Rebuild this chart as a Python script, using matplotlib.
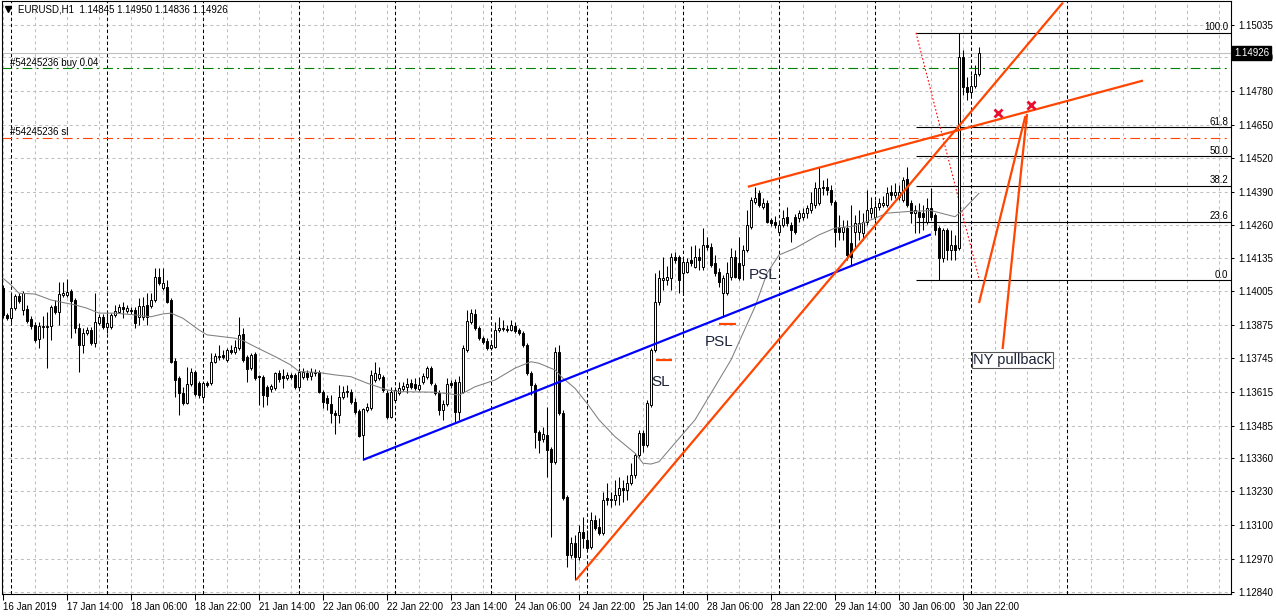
import numpy as np
import matplotlib
matplotlib.use('Agg')
import matplotlib.pyplot as plt

plt.rcParams['font.family'] = ['Liberation Sans', 'DejaVu Sans']
plt.rcParams['lines.scale_dashes'] = False

# EURUSD H1, bar 0 = 16 Jan 22:00
start_hour = 22
opens = [
    1.14017, 1.13913, 1.13901, 1.13940, 1.13987, 1.13932, 1.13936, 1.13897, 1.13875, 1.13820,
    1.13867, 1.13867, 1.13871, 1.13948, 1.13924, 1.13991, 1.13991, 1.14006, 1.13971, 1.13863,
    1.13797, 1.13843, 1.13855, 1.13804, 1.13882, 1.13905, 1.13867, 1.13867, 1.13913, 1.13924,
    1.13944, 1.13928, 1.13932, 1.13932, 1.13905, 1.13905, 1.13952, 1.13948, 1.13971, 1.14060,
    1.14017, 1.14021, 1.13971, 1.13735, 1.13669, 1.13611, 1.13572, 1.13646, 1.13692, 1.13650,
    1.13596, 1.13650, 1.13650, 1.13731, 1.13751, 1.13759, 1.13739, 1.13778, 1.13770, 1.13785,
    1.13840, 1.13751, 1.13708, 1.13763, 1.13677, 1.13673, 1.13634, 1.13627, 1.13631, 1.13688,
    1.13677, 1.13669, 1.13681, 1.13681, 1.13634, 1.13673, 1.13688, 1.13677, 1.13692, 1.13692,
    1.13615, 1.13592, 1.13569, 1.13534, 1.13526, 1.13596, 1.13615, 1.13615, 1.13576, 1.13541,
    1.13449, 1.13545, 1.13553, 1.13661, 1.13669, 1.13673, 1.13611, 1.13518, 1.13584, 1.13611,
    1.13627, 1.13634, 1.13650, 1.13646, 1.13627, 1.13653, 1.13673, 1.13708, 1.13642, 1.13611,
    1.13545, 1.13569, 1.13650, 1.13653, 1.13538, 1.13615, 1.13778, 1.13886, 1.13917, 1.13863,
    1.13824, 1.13812, 1.13785, 1.13789, 1.13855, 1.13859, 1.13859, 1.13855, 1.13871, 1.13855,
    1.13843, 1.13797, 1.13688, 1.13642, 1.13460, 1.13433, 1.13449, 1.13394, 1.13344, 1.13770,
    1.13534, 1.13209, 1.12984, 1.13031, 1.12976, 1.13073, 1.13042, 1.13015, 1.13120, 1.13093,
    1.13069, 1.13205, 1.13197, 1.13197, 1.13216, 1.13243, 1.13236, 1.13263, 1.13294, 1.13371,
    1.13456, 1.13410, 1.13565, 1.13778, 1.13963, 1.14048, 1.14048, 1.14056, 1.14137, 1.14137,
    1.14075, 1.14079, 1.14126, 1.14099, 1.14137, 1.14099, 1.14184, 1.14176, 1.14114, 1.14079,
    1.13998, 1.13998, 1.14060, 1.14137, 1.14114, 1.14106, 1.14165, 1.14254, 1.14350, 1.14385,
    1.14331, 1.14347, 1.14281, 1.14273, 1.14234, 1.14261, 1.14292, 1.14261, 1.14292, 1.14288,
    1.14292, 1.14308, 1.14319, 1.14339, 1.14347, 1.14408, 1.14408, 1.14397, 1.14350, 1.14254,
    1.14234, 1.14250, 1.14192, 1.14234, 1.14234, 1.14230, 1.14273, 1.14308, 1.14292, 1.14331,
    1.14339, 1.14339, 1.14389, 1.14377, 1.14370, 1.14358, 1.14439, 1.14347, 1.14308, 1.14312,
    1.14308, 1.14273, 1.14327, 1.14300, 1.14250, 1.14134, 1.14242, 1.14165, 1.14184, 1.14172,
    1.14911, 1.14795, 1.14776, 1.14799, 1.14845,
]
highs = [
    1.14029, 1.13920, 1.13998, 1.13995, 1.13998, 1.14006, 1.13952, 1.13909, 1.13886, 1.13886,
    1.13909, 1.13924, 1.13952, 1.13971, 1.14040, 1.14040, 1.14052, 1.14013, 1.13979, 1.13882,
    1.13863, 1.13867, 1.13867, 1.13998, 1.13917, 1.13917, 1.13924, 1.13920, 1.13952, 1.13956,
    1.13963, 1.13952, 1.13944, 1.13944, 1.13979, 1.13983, 1.13998, 1.13998, 1.14095, 1.14095,
    1.14095, 1.14048, 1.13979, 1.13747, 1.13677, 1.13634, 1.13712, 1.13708, 1.13700, 1.13657,
    1.13657, 1.13657, 1.13766, 1.13766, 1.13797, 1.13778, 1.13785, 1.13797, 1.13816, 1.13905,
    1.13863, 1.13759, 1.13766, 1.13770, 1.13681, 1.13681, 1.13642, 1.13646, 1.13692, 1.13700,
    1.13704, 1.13692, 1.13688, 1.13688, 1.13708, 1.13708, 1.13700, 1.13708, 1.13704, 1.13700,
    1.13623, 1.13604, 1.13604, 1.13545, 1.13642, 1.13638, 1.13642, 1.13627, 1.13592, 1.13549,
    1.13553, 1.13572, 1.13700, 1.13731, 1.13712, 1.13681, 1.13623, 1.13634, 1.13634, 1.13653,
    1.13653, 1.13669, 1.13665, 1.13669, 1.13673, 1.13688, 1.13716, 1.13716, 1.13650, 1.13623,
    1.13584, 1.13669, 1.13661, 1.13665, 1.13677, 1.13797, 1.13932, 1.13936, 1.13936, 1.13871,
    1.13832, 1.13824, 1.13808, 1.13886, 1.13905, 1.13894, 1.13875, 1.13894, 1.13886, 1.13863,
    1.13851, 1.13804, 1.13696, 1.13650, 1.13468, 1.13479, 1.13557, 1.13402, 1.13789, 1.13797,
    1.13545, 1.13216, 1.13054, 1.13062, 1.13100, 1.13131, 1.13081, 1.13151, 1.13139, 1.13127,
    1.13228, 1.13263, 1.13228, 1.13274, 1.13286, 1.13274, 1.13294, 1.13340, 1.13379, 1.13468,
    1.13468, 1.13584, 1.13785, 1.14075, 1.14087, 1.14137, 1.14103, 1.14153, 1.14157, 1.14145,
    1.14134, 1.14134, 1.14180, 1.14184, 1.14172, 1.14250, 1.14215, 1.14192, 1.14145, 1.14095,
    1.14068, 1.14118, 1.14172, 1.14165, 1.14215, 1.14184, 1.14319, 1.14370, 1.14408, 1.14397,
    1.14366, 1.14358, 1.14288, 1.14296, 1.14281, 1.14319, 1.14331, 1.14273, 1.14304, 1.14319,
    1.14327, 1.14339, 1.14389, 1.14428, 1.14486, 1.14435, 1.14443, 1.14416, 1.14358, 1.14300,
    1.14281, 1.14281, 1.14339, 1.14300, 1.14319, 1.14308, 1.14397, 1.14370, 1.14358, 1.14366,
    1.14374, 1.14408, 1.14416, 1.14424, 1.14416, 1.14447, 1.14486, 1.14358, 1.14339, 1.14347,
    1.14339, 1.14366, 1.14404, 1.14308, 1.14257, 1.14250, 1.14250, 1.14242, 1.14223, 1.15004,
    1.14939, 1.14834, 1.14842, 1.14880, 1.14950,
]
lows = [
    1.13901, 1.13894, 1.13886, 1.13932, 1.13959, 1.13913, 1.13882, 1.13859, 1.13808, 1.13785,
    1.13824, 1.13708, 1.13816, 1.13917, 1.13875, 1.13983, 1.13983, 1.13824, 1.13843, 1.13692,
    1.13766, 1.13836, 1.13797, 1.13789, 1.13875, 1.13859, 1.13843, 1.13859, 1.13905, 1.13920,
    1.13901, 1.13920, 1.13917, 1.13863, 1.13875, 1.13894, 1.13875, 1.13940, 1.13963, 1.14029,
    1.14010, 1.13959, 1.13727, 1.13596, 1.13526, 1.13565, 1.13569, 1.13638, 1.13600, 1.13592,
    1.13584, 1.13634, 1.13642, 1.13727, 1.13739, 1.13743, 1.13731, 1.13763, 1.13763, 1.13778,
    1.13731, 1.13653, 1.13700, 1.13661, 1.13565, 1.13557, 1.13565, 1.13615, 1.13623, 1.13653,
    1.13631, 1.13661, 1.13665, 1.13627, 1.13627, 1.13665, 1.13661, 1.13661, 1.13677, 1.13611,
    1.13553, 1.13545, 1.13495, 1.13453, 1.13495, 1.13588, 1.13596, 1.13569, 1.13530, 1.13441,
    1.13352, 1.13538, 1.13545, 1.13653, 1.13661, 1.13615, 1.13511, 1.13514, 1.13576, 1.13604,
    1.13619, 1.13611, 1.13627, 1.13623, 1.13619, 1.13646, 1.13665, 1.13642, 1.13604, 1.13526,
    1.13507, 1.13561, 1.13631, 1.13499, 1.13507, 1.13611, 1.13770, 1.13879, 1.13855, 1.13816,
    1.13801, 1.13778, 1.13778, 1.13785, 1.13847, 1.13851, 1.13847, 1.13851, 1.13843, 1.13836,
    1.13789, 1.13681, 1.13604, 1.13398, 1.13379, 1.13421, 1.13286, 1.13054, 1.13336, 1.13526,
    1.13197, 1.12938, 1.12973, 1.12887, 1.12965, 1.13011, 1.13004, 1.13007, 1.13081, 1.13062,
    1.13062, 1.13178, 1.13170, 1.13178, 1.13178, 1.13189, 1.13197, 1.13255, 1.13282, 1.13364,
    1.13383, 1.13402, 1.13557, 1.13770, 1.13952, 1.14010, 1.14029, 1.14010, 1.14114, 1.13998,
    1.13991, 1.14075, 1.14103, 1.14095, 1.14087, 1.14087, 1.14165, 1.14099, 1.14064, 1.14021,
    1.13905, 1.13991, 1.14048, 1.14056, 1.14048, 1.14048, 1.14157, 1.14246, 1.14343, 1.14331,
    1.14323, 1.14269, 1.14257, 1.14250, 1.14226, 1.14254, 1.14257, 1.14195, 1.14226, 1.14273,
    1.14281, 1.14288, 1.14308, 1.14327, 1.14339, 1.14377, 1.14377, 1.14339, 1.14176, 1.14203,
    1.14203, 1.14126, 1.14103, 1.14172, 1.14203, 1.14203, 1.14261, 1.14288, 1.14281, 1.14319,
    1.14331, 1.14331, 1.14358, 1.14366, 1.14358, 1.14350, 1.14331, 1.14269, 1.14230, 1.14230,
    1.14242, 1.14265, 1.14281, 1.14223, 1.14048, 1.14118, 1.14126, 1.14126, 1.14126, 1.14165,
    1.14764, 1.14745, 1.14757, 1.14791, 1.14836,
]
closes = [
    1.13913, 1.13901, 1.13940, 1.13987, 1.13967, 1.13998, 1.13890, 1.13871, 1.13816, 1.13871,
    1.13871, 1.13871, 1.13944, 1.13924, 1.13995, 1.13998, 1.14002, 1.13967, 1.13863, 1.13797,
    1.13843, 1.13855, 1.13804, 1.13886, 1.13905, 1.13867, 1.13882, 1.13913, 1.13928, 1.13944,
    1.13936, 1.13940, 1.13928, 1.13882, 1.13948, 1.13948, 1.13905, 1.13971, 1.14060, 1.14037,
    1.14037, 1.13963, 1.13731, 1.13661, 1.13611, 1.13572, 1.13646, 1.13692, 1.13607, 1.13604,
    1.13650, 1.13642, 1.13731, 1.13755, 1.13755, 1.13751, 1.13778, 1.13770, 1.13789, 1.13836,
    1.13739, 1.13704, 1.13759, 1.13669, 1.13673, 1.13604, 1.13600, 1.13638, 1.13688, 1.13665,
    1.13669, 1.13681, 1.13673, 1.13634, 1.13692, 1.13692, 1.13673, 1.13692, 1.13688, 1.13615,
    1.13576, 1.13572, 1.13534, 1.13526, 1.13596, 1.13615, 1.13619, 1.13576, 1.13538, 1.13445,
    1.13549, 1.13557, 1.13681, 1.13688, 1.13685, 1.13623, 1.13518, 1.13615, 1.13623, 1.13631,
    1.13638, 1.13646, 1.13634, 1.13631, 1.13642, 1.13677, 1.13708, 1.13650, 1.13611, 1.13545,
    1.13569, 1.13646, 1.13642, 1.13538, 1.13653, 1.13785, 1.13890, 1.13920, 1.13863, 1.13824,
    1.13808, 1.13785, 1.13797, 1.13855, 1.13863, 1.13863, 1.13855, 1.13875, 1.13851, 1.13843,
    1.13797, 1.13688, 1.13642, 1.13460, 1.13429, 1.13453, 1.13391, 1.13344, 1.13770, 1.13534,
    1.13205, 1.12984, 1.13031, 1.12976, 1.13073, 1.13050, 1.13011, 1.13120, 1.13089, 1.13069,
    1.13197, 1.13197, 1.13201, 1.13216, 1.13243, 1.13236, 1.13263, 1.13294, 1.13371, 1.13456,
    1.13410, 1.13572, 1.13778, 1.13963, 1.14056, 1.14056, 1.14060, 1.14137, 1.14126, 1.14048,
    1.14118, 1.14118, 1.14114, 1.14137, 1.14126, 1.14184, 1.14176, 1.14106, 1.14075, 1.14040,
    1.14056, 1.14075, 1.14137, 1.14060, 1.14056, 1.14165, 1.14261, 1.14358, 1.14366, 1.14339,
    1.14347, 1.14273, 1.14269, 1.14261, 1.14261, 1.14288, 1.14269, 1.14242, 1.14234, 1.14308,
    1.14308, 1.14327, 1.14347, 1.14404, 1.14404, 1.14404, 1.14397, 1.14350, 1.14234, 1.14234,
    1.14254, 1.14145, 1.14137, 1.14269, 1.14269, 1.14273, 1.14319, 1.14327, 1.14331, 1.14347,
    1.14347, 1.14385, 1.14377, 1.14389, 1.14389, 1.14435, 1.14339, 1.14308, 1.14319, 1.14292,
    1.14292, 1.14327, 1.14292, 1.14242, 1.14134, 1.14242, 1.14165, 1.14184, 1.14165, 1.14911,
    1.14795, 1.14776, 1.14799, 1.14846, 1.14926,
]

# moving average
ma_bar = [0, 2, 4, 8, 12, 16, 18, 21, 24, 28, 33, 37, 40, 42, 45, 49, 51, 58, 60, 63,
          68, 72, 74, 79, 83, 87, 91, 96, 99, 108, 114, 115, 118, 123, 128, 132, 134, 138, 140, 143,
          146, 149, 153, 158, 160, 162, 164, 173, 177, 182, 188, 191, 194, 198, 204, 208, 213, 218, 221, 226,
          232, 238, 240, 244]
ma_val = [1.14055, 1.14029, 1.13997, 1.13994, 1.13971, 1.13958, 1.13952, 1.13939, 1.13920, 1.13920,
          1.13913, 1.13906, 1.13917, 1.13920, 1.13900, 1.13855, 1.13836, 1.13823, 1.13814, 1.13790,
          1.13752, 1.13719, 1.13694, 1.13690, 1.13681, 1.13674, 1.13649, 1.13623, 1.13616, 1.13614,
          1.13603, 1.13610, 1.13635, 1.13661, 1.13707, 1.13732, 1.13726, 1.13700, 1.13668, 1.13629,
          1.13571, 1.13507, 1.13442, 1.13378, 1.13339, 1.13336, 1.13345, 1.13507, 1.13610, 1.13739,
          1.13945, 1.14074, 1.14145, 1.14171, 1.14223, 1.14249, 1.14257, 1.14287, 1.14307, 1.14313,
          1.14317, 1.14293, 1.14319, 1.14384]

time_labels = ['16 Jan 2019', '17 Jan 14:00', '18 Jan 06:00', '18 Jan 22:00', '21 Jan 14:00',
               '22 Jan 06:00', '22 Jan 22:00', '23 Jan 14:00', '24 Jan 06:00', '24 Jan 22:00',
               '25 Jan 14:00', '28 Jan 06:00', '28 Jan 22:00', '29 Jan 14:00', '30 Jan 06:00',
               '30 Jan 22:00']
price_ticks = [1.15035, 1.14910, 1.14780, 1.14650, 1.14520, 1.14390, 1.14260, 1.14135, 1.14005,
               1.13875, 1.13745, 1.13615, 1.13485, 1.13360, 1.13230, 1.13100, 1.12970, 1.12840]
price_labels = ['%.5f' % p for p in price_ticks]

bid = 1.14926
buy_price = 1.14867
sl_price = 1.14599

fib_high = 1.15005
fib_low = 1.14048
fib_levels = [0.0, 23.6, 38.2, 50.0, 61.8, 100.0]
fib_bars = [228.25, 244.1]

# trend lines: (bar1, bar2), (price1, price2)
blue_line = ([90, 232], [1.13352, 1.14225])
rise_line = ([143.25, 265], [1.12887, 1.15122])
channel_line = ([186.2, 285], [1.14409, 1.14820])
pull_a = ([244, 255.6], [1.13959, 1.14683])
pull_b = ([249.9, 256], [1.13781, 1.14691])
sl_marks = [([163.25, 167.25], 1.13739), ([179, 183.25], 1.13879)]
cross_bars = [248.8, 256.9]
cross_prices = [1.14694, 1.14725]

orange = '#ff4500'
grid_col = '#c0c0c0'

fig = plt.figure(figsize=(12.76, 6.16), dpi=100)
ax = fig.add_axes([2 / 1276, 22 / 616, 1229 / 1276, 593 / 616])
ax.set_xlim(-0.25, 307)
ax.set_ylim(1.12833, 1.15128)

# grid
for b in range(0, 307, 8):
    ax.axvline(b, color=grid_col, lw=0.75, ls=(0, (2.2, 2.2)), zorder=0)
for p in price_ticks:
    ax.axhline(p, color=grid_col, lw=0.75, ls=(0, (2.2, 2.2)), zorder=0)
# day separators
for b in range(0, 267):
    if (b + start_hour) % 24 == 0:
        ax.axvline(b, color='black', lw=0.75, ls=(0, (2.5, 1.8)), zorder=0.5)

# bid / order lines
ax.axhline(bid, color=grid_col, lw=0.8, zorder=1)
ax.axhline(buy_price, color='#008000', lw=0.8, ls=(0, (7, 3, 1.5, 3)), zorder=1)
ax.axhline(sl_price, color=orange, lw=0.8, ls=(0, (7, 3, 1.5, 3)), zorder=1)
ax.text(0.0065, buy_price + 0.00003, '#54245236 buy 0.04', transform=ax.get_yaxis_transform(),
        fontsize=7, va='bottom', ha='left')
ax.text(0.0065, sl_price + 0.00003, '#54245236 sl', transform=ax.get_yaxis_transform(),
        fontsize=7, va='bottom', ha='left')

# fibonacci
fib_range = fib_high - fib_low
for lv in fib_levels:
    p = fib_low + lv / 100 * fib_range
    ax.hlines(p, fib_bars[0], 307, color='black', lw=0.8, zorder=1.5)
    ax.text(0.9976, p + 0.00002, '%.1f' % lv, transform=ax.get_yaxis_transform(),
            fontsize=7, ha='right', va='bottom')
ax.plot(fib_bars, [fib_high, fib_low], color='red', lw=0.8, ls=(0, (1.2, 1.5)), zorder=2)

# candles
x = np.arange(len(opens))
o = np.array(opens)
c = np.array(closes)
up = c >= o
ax.vlines(x, lows, highs, color='black', lw=0.75, zorder=3)
bottom = np.minimum(o, c)
height = np.abs(c - o)
ax.bar(x[up], height[up], bottom=bottom[up], width=0.58, color='white',
       edgecolor='black', lw=0.7, zorder=4)
ax.bar(x[~up], height[~up], bottom=bottom[~up], width=0.58, color='black',
       edgecolor='black', lw=0.7, zorder=4)

# moving average
ax.plot(ma_bar, ma_val, color='#7f7f7f', lw=0.75, zorder=5)

# trend lines
ax.plot(*blue_line, color='#0000ff', lw=1.6, zorder=6, solid_capstyle='butt')
for ln in (rise_line, channel_line, pull_a, pull_b):
    ax.plot(*ln, color=orange, lw=1.6, zorder=6, solid_capstyle='butt')
for bars, p in sl_marks:
    ax.plot(bars, [p, p], color=orange, lw=1.6, zorder=6, solid_capstyle='butt')
ax.plot(cross_bars, cross_prices, ls='none', marker='x', ms=6, mew=2, color='#e8102e', zorder=7)

# text labels
ax.text(190, 1.14068, 'PSL', fontsize=11, color='#1c2438', ha='center', va='center', zorder=7)
ax.text(179, 1.13808, 'PSL', fontsize=11, color='#1c2438', ha='center', va='center', zorder=7)
ax.text(164.3, 1.13654, 'SL', fontsize=11, color='#1c2438', ha='center', va='center', zorder=3.5)
ax.text(242.5, 1.13739, 'NY pullback', fontsize=10.5, color='#1c2438', ha='left', va='center', zorder=7,
        bbox=dict(boxstyle='square,pad=0.08', fc='white', ec='#555555', lw=0.8))

# header
ax.plot([0.005], [0.986], marker='v', ms=4, color='black', transform=ax.transAxes, clip_on=False)
ax.text(0.013, 0.986, 'EURUSD,H1  1.14845 1.14950 1.14836 1.14926', transform=ax.transAxes,
        fontsize=7, va='center', ha='left')

# axes
ax.yaxis.tick_right()
ax.set_yticks(price_ticks, price_labels)
ax.tick_params(axis='y', direction='out', length=2.5, width=0.75, pad=2.5, labelsize=7)
label_bars = list(range(0, 16 * len(time_labels), 16))
ax.set_xticks(label_bars, time_labels)
ax.tick_params(axis='x', direction='out', length=4, width=0.75, pad=2, labelsize=7)
for t in ax.get_xticklabels():
    t.set_ha('left')
for s in ax.spines.values():
    s.set_color('black')
    s.set_linewidth(0.8)

ax.text(1.0025, bid, '1.14926', transform=ax.get_yaxis_transform(), fontsize=7, color='white',
        va='center', ha='left', zorder=10, clip_on=False,
        bbox=dict(boxstyle='square,pad=0.2', fc='black', ec='black'))

fig.savefig('out.png', dpi=100)
